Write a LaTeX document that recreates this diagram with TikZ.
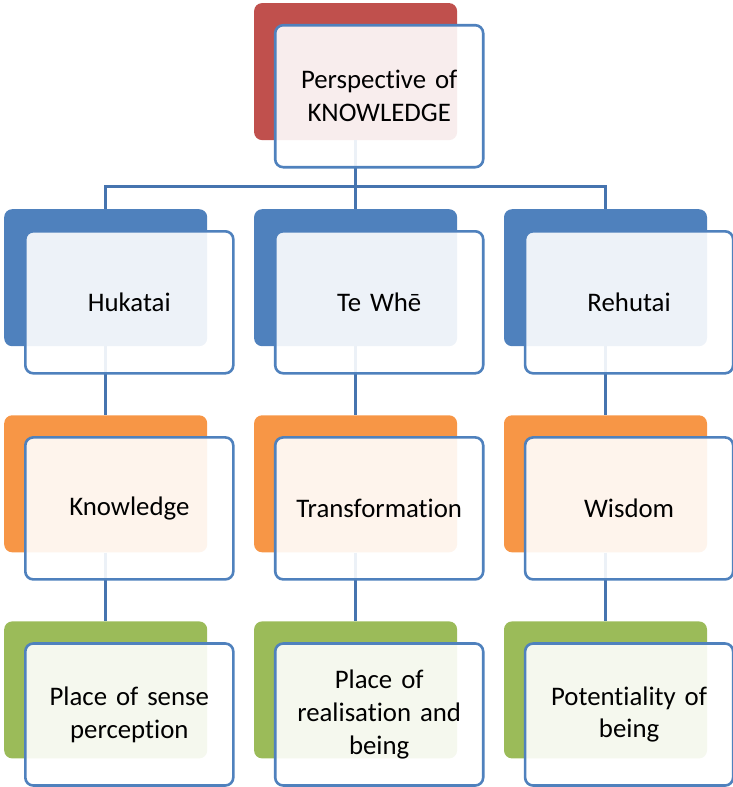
\documentclass[tikz,border=0pt]{standalone}
\usepackage{fontspec}
\setmainfont{Carlito}[Ligatures=NoCommon]
\usepackage{xcolor}
\usepackage{tikz}
\usetikzlibrary{positioning}

\definecolor{accred}{HTML}{C0504D}
\definecolor{accblue}{HTML}{4F81BD}
\definecolor{accorange}{HTML}{F79646}
\definecolor{accgreen}{HTML}{9BBB59}
\definecolor{linkblue}{HTML}{4674AF}

\begin{document}
\begin{tikzpicture}[
    x=1pt, y=1pt,
    node distance=68.7pt and 46.5pt,
    back/.style={rectangle, rounded corners=8pt, minimum width=203pt, minimum height=137pt, inner sep=0pt},
    front/.style={rectangle, rounded corners=8pt, draw=accblue, line width=2.6pt, fill=white, fill opacity=0.9, text opacity=1,
                  minimum width=208pt, minimum height=142pt, text width=200pt, align=center,
                  font=\fontsize{26.8}{32.7}\selectfont, anchor=north west},
    link/.style={draw=linkblue, line width=3pt}
]
    \useasboundingbox (0,0) rectangle (733,-787);

    % Back boxes
    \node[back, fill=accblue, anchor=north west] (hukb) at (4,-209) {};
    \node[back, fill=accblue, right=of hukb] (whab) {};
    \node[back, fill=accblue, right=of whab] (rehb) {};

    \node[back, fill=accred, above=of whab] (perspb) {};

    \node[back, fill=accorange, below=of hukb] (knowb) {};
    \node[back, fill=accorange, below=of whab] (transb) {};
    \node[back, fill=accorange, below=of rehb] (wisb) {};

    \node[back, fill=accgreen, below=of knowb] (senseb) {};
    \node[back, fill=accgreen, below=of transb] (realb) {};
    \node[back, fill=accgreen, below=of wisb] (potb) {};

    % Connectors
    \coordinate (split) at ([yshift=-46pt]perspb.south);
    \draw[link] (perspb.south) -- (split) -| (hukb.north);
    \draw[link] (split) -| (rehb.north);
    \draw[link] (split) -- (whab.north);

    \draw[link] (hukb.south) -- (knowb.north);
    \draw[link] (whab.south) -- (transb.north);
    \draw[link] (rehb.south) -- (wisb.north);

    \draw[link] (knowb.south) -- (senseb.north);
    \draw[link] (transb.south) -- (realb.north);
    \draw[link] (wisb.south) -- (potb.north);

    % Front boxes
    \node[front] (persp) at ([shift={(20pt,-21pt)}]perspb.north west) {Perspective of\\KNOWLEDGE};

    \node[front] (hukatai) at ([shift={(20pt,-21pt)}]hukb.north west) {Hukatai};
    \node[front] (tewhe) at ([shift={(20pt,-21pt)}]whab.north west) {Te Whē};
    \node[front] (rehutai) at ([shift={(20pt,-21pt)}]rehb.north west) {Rehutai};

    \node[front] (knowledge) at ([shift={(20pt,-21pt)}]knowb.north west) {Knowledge};
    \node[front] (transform) at ([shift={(20pt,-21pt)}]transb.north west) {Transformation};
    \node[front] (wisdom) at ([shift={(20pt,-21pt)}]wisb.north west) {Wisdom};

    \node[front] (sense) at ([shift={(20pt,-21pt)}]senseb.north west) {Place of sense\\perception};
    \node[front] (realise) at ([shift={(20pt,-21pt)}]realb.north west) {Place of\\realisation and\\being};
    \node[front] (potential) at ([shift={(20pt,-21pt)}]potb.north west) {Potentiality of\\being};
\end{tikzpicture}
\end{document}
